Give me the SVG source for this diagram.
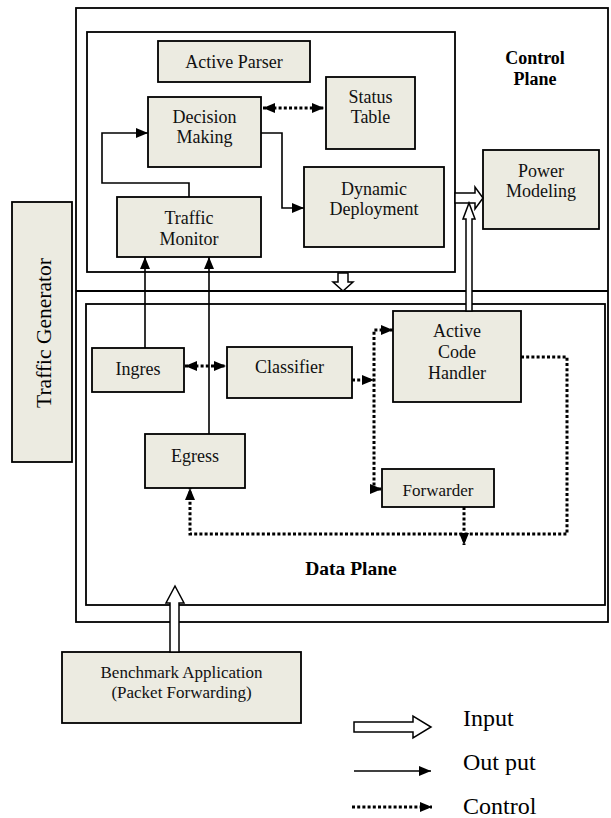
<svg xmlns="http://www.w3.org/2000/svg" width="611" height="818" viewBox="0 0 611 818" font-family="Liberation Serif, Times New Roman, serif">
<style>
text{font-family:"Liberation Serif","Times New Roman",serif;}
.n{fill:#ecebe1;stroke:#000;stroke-width:1.8;}
.frame{fill:none;stroke:#000;stroke-width:1.8;}
.t{font-size:18px;fill:#111;text-anchor:middle;}
.s{font-size:17px;}
.b{font-size:18px;font-weight:bold;fill:#000;text-anchor:middle;}
.lg{font-size:24px;fill:#000;}
.solid{fill:none;stroke:#000;stroke-width:1.6;}
.dot{fill:none;stroke:#000;stroke-width:3;stroke-dasharray:3 2.2;}
.hollow{fill:#fff;stroke:#000;stroke-width:1.5;}
</style>
<defs>
<marker id="ah" viewBox="0 0 12 10" refX="12" refY="5" markerWidth="12" markerHeight="10" markerUnits="userSpaceOnUse" orient="auto-start-reverse">
<path d="M0,0 L12,5 L0,10 Z" fill="#000"/>
</marker>
</defs>
<rect width="611" height="818" fill="#fff"/>

<g id="frames">
<rect class="frame" x="76" y="8" width="532" height="614"/>
<line class="frame" x1="76" y1="291" x2="608" y2="291"/>
<rect class="frame" x="87" y="32" width="368" height="240"/>
<rect class="frame" x="86" y="304" width="519" height="301"/>
<text class="b" x="535" y="64">Control</text>
<text class="b" x="535" y="85">Plane</text>
<text class="b" x="351" y="575" style="font-size:19.5px">Data Plane</text>
</g>

<g id="traffic-generator">
<rect class="n" x="12" y="202" width="60" height="260"/>
<text x="0" y="0" text-anchor="middle" font-size="21.5" transform="translate(51,333) rotate(-90)" style="font-size:21.5px">Traffic Generator</text>
</g>
<g id="active-parser"><rect class="n" x="158" y="41" width="152" height="41"/><text class="t" x="234" y="68">Active Parser</text></g>
<g id="decision-making"><rect class="n" x="148" y="97" width="113" height="70"/><text class="t" x="204.5" y="123">Decision</text><text class="t" x="204.5" y="143">Making</text></g>
<g id="status-table"><rect class="n" x="326" y="77" width="89" height="72"/><text class="t" x="370.5" y="103">Status</text><text class="t" x="370.5" y="123">Table</text></g>
<g id="dynamic-deployment"><rect class="n" x="304" y="167" width="140" height="80"/><text class="t" x="374" y="195">Dynamic</text><text class="t" x="374" y="215">Deployment</text></g>
<g id="traffic-monitor"><rect class="n" x="117" y="197" width="144" height="60"/><text class="t" x="189" y="224">Traffic</text><text class="t" x="189" y="245">Monitor</text></g>
<g id="power-modeling"><rect class="n" x="483" y="150" width="116" height="79"/><text class="t" x="541" y="177">Power</text><text class="t" x="541" y="197">Modeling</text></g>
<g id="ingres"><rect class="n" x="92" y="348" width="92" height="44"/><text class="t" x="138" y="375">Ingres</text></g>
<g id="classifier"><rect class="n" x="227" y="347" width="125" height="51"/><text class="t" x="289.5" y="373">Classifier</text></g>
<g id="egress"><rect class="n" x="145" y="434" width="100" height="54"/><text class="t" x="195" y="462">Egress</text></g>
<g id="active-code-handler"><rect class="n" x="393" y="311" width="128" height="91"/><text class="t" x="457" y="337">Active</text><text class="t" x="457" y="358">Code</text><text class="t" x="457" y="379">Handler</text></g>
<g id="forwarder"><rect class="n" x="382" y="469" width="112" height="38"/><text class="t s" x="438" y="496">Forwarder</text></g>
<g id="benchmark"><rect class="n" x="62" y="652" width="239" height="71"/><text class="t s" x="181.5" y="678">Benchmark Application</text><text class="t s" x="181.5" y="698">(Packet Forwarding)</text></g>

<g id="connectors">
<polyline class="solid" points="189,197 189,183 102,183 102,133 148,133" marker-end="url(#ah)"/>
<polyline class="solid" points="261,133 282,133 282,208 304,208" marker-end="url(#ah)"/>
<line class="dot" x1="263" y1="108" x2="324" y2="108" marker-start="url(#ah)" marker-end="url(#ah)"/>
<line class="solid" x1="145" y1="348" x2="145" y2="257" marker-end="url(#ah)"/>
<line class="solid" x1="209" y1="434" x2="209" y2="257" marker-end="url(#ah)"/>
<line class="dot" x1="185" y1="366" x2="226" y2="366" marker-start="url(#ah)" marker-end="url(#ah)"/>
<line class="dot" x1="352" y1="380" x2="374" y2="380" marker-end="url(#ah)"/>
<polyline class="dot" points="393,330 374,330 374,489 382,489" marker-start="url(#ah)" marker-end="url(#ah)"/>
<polyline class="dot" points="521,357 567,357 567,534 190,534 190,488" marker-end="url(#ah)"/>
<line class="dot" x1="464" y1="507" x2="464" y2="545" marker-end="url(#ah)"/>
<polygon class="hollow" points="455,193 475,193 475,187 483,198 475,209 475,203 455,203"/>
<polygon class="hollow" points="466,311 466,219 463,219 469,203 475,219 472,219 472,311"/>
<polygon class="hollow" points="338,273 348,273 348,282 353,282 343,291 333,282 338,282"/>
<polygon class="hollow" points="170,652 170,603 166,603 175,586 184,603 179,603 179,652"/>
</g>

<g id="legend">
<polygon class="hollow" points="354,722 413,722 413,716 431,727 413,738 413,732 354,732"/>
<text class="lg" x="463" y="726">Input</text>
<line class="solid" x1="354" y1="771" x2="431" y2="771" marker-end="url(#ah)"/>
<text class="lg" x="463" y="770">Out put</text>
<line class="dot" x1="352" y1="807" x2="432" y2="807" marker-end="url(#ah)"/>
<text class="lg" x="463" y="814">Control</text>
</g>
</svg>
